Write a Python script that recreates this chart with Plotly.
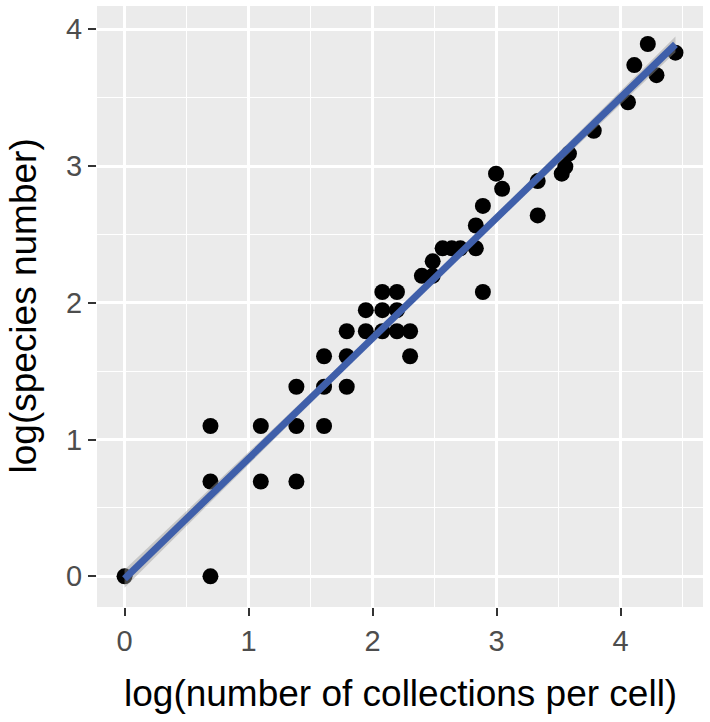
import numpy as np
import plotly.graph_objects as go

# log(number of collections per cell)
log_collections = [
    0.000, 0.693, 0.693, 0.693, 1.099, 1.099, 1.386, 1.386, 1.386, 1.609,
    1.609, 1.609, 1.792, 1.792, 1.792, 1.946, 1.946, 2.079, 2.079, 2.079,
    2.197, 2.197, 2.197, 2.303, 2.303, 2.398, 2.485, 2.485, 2.565, 2.639,
    2.708, 2.833, 2.833, 2.890, 2.890, 2.996, 3.045, 3.332, 3.332, 3.526,
    3.555, 3.584, 3.784, 4.060, 4.111, 4.220, 4.290, 4.443,
]
# log(species number)
log_species = [
    0.000, 0.000, 0.693, 1.099, 0.693, 1.099, 0.693, 1.099, 1.386, 1.099,
    1.386, 1.609, 1.386, 1.609, 1.792, 1.792, 1.946, 1.792, 1.946, 2.079,
    1.792, 1.946, 2.079, 1.609, 1.792, 2.197, 2.197, 2.303, 2.398, 2.398,
    2.398, 2.398, 2.565, 2.708, 2.079, 2.944, 2.833, 2.890, 2.639, 2.944,
    2.996, 3.091, 3.258, 3.466, 3.738, 3.892, 3.664, 3.829,
]
x_ticks = [0, 1, 2, 3, 4]
y_ticks = [0, 1, 2, 3, 4]

# Many cells overlap on the same integer-count positions, so the band in the
# picture is much narrower than the visible points alone would give.
ci_scale = 0.4

x = np.array(log_collections)
y = np.array(log_species)
n = len(x)
slope, intercept = np.polyfit(x, y, 1)
resid = y - (slope * x + intercept)
s = np.sqrt(np.sum(resid ** 2) / (n - 2))
sxx = np.sum((x - x.mean()) ** 2)
t_crit = 2.013  # t(0.975, df=46)
xs = np.linspace(x.min(), x.max(), 80)
fit = slope * xs + intercept
se = ci_scale * s * np.sqrt(1.0 / n + (xs - x.mean()) ** 2 / sxx)
upper = fit + t_crit * se
lower = fit - t_crit * se

FONT = "Liberation Sans, Arial, Helvetica, sans-serif"

fig = go.Figure()
fig.add_trace(go.Scatter(
    x=x, y=y, mode="markers",
    marker=dict(color="black", size=16, line=dict(width=0)),
    showlegend=False, hoverinfo="skip",
))
fig.add_trace(go.Scatter(
    x=np.concatenate([xs, xs[::-1]]), y=np.concatenate([upper, lower[::-1]]),
    fill="toself", fillcolor="rgba(153,153,153,0.45)", line=dict(width=0),
    mode="lines", showlegend=False, hoverinfo="skip",
))
fig.add_trace(go.Scatter(
    x=xs, y=fit, mode="lines", line=dict(color="#3F5FAA", width=7),
    showlegend=False, hoverinfo="skip",
))

axis_common = dict(
    automargin=False,
    showgrid=True, gridcolor="white", gridwidth=2.5,
    zeroline=False, showline=False,
    ticks="outside", ticklen=8, tickwidth=2, tickcolor="#333333",
    tickfont=dict(family=FONT, size=29, color="#4D4D4D"),
    minor=dict(showgrid=True, gridcolor="white", gridwidth=1.2, dtick=0.5, tick0=0.5, ticks=""),
)

fig.update_layout(
    width=710, height=722,
    margin=dict(l=97, r=7, t=6, b=115),
    paper_bgcolor="white", plot_bgcolor="#EBEBEB",
    font=dict(family=FONT),
    xaxis=dict(
        range=[-0.2221, 4.6651], tickvals=x_ticks, ticktext=[str(v) for v in x_ticks],
        **axis_common,
    ),
    yaxis=dict(
        range=[-0.2245, 4.170], tickvals=y_ticks, ticktext=[str(v) for v in y_ticks],
        **axis_common,
    ),
    annotations=[
        dict(text="log(number of collections per cell)", xref="paper", yref="paper",
             x=0.5, y=0, xanchor="center", yanchor="middle", yshift=-86,
             showarrow=False, font=dict(family=FONT, size=37, color="black")),
        dict(text="log(species number)", xref="paper", yref="paper",
             x=0, y=0.5, xanchor="center", yanchor="middle", xshift=-74,
             textangle=-90, showarrow=False,
             font=dict(family=FONT, size=37, color="black")),
    ],
)

fig.write_html(
    "out.html",
    config={"displayModeBar": False},
    post_script="document.body.style.margin='0px';document.body.style.overflow='hidden';",
)
